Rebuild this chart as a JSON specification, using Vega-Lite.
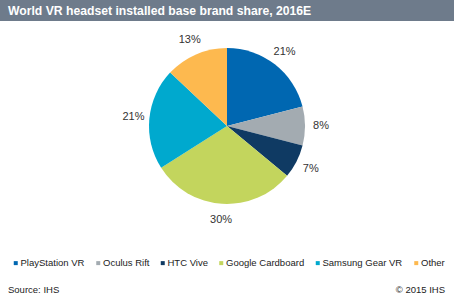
{
  "$schema": "https://vega.github.io/schema/vega-lite/v6.json",
  "width": 454,
  "height": 308,
  "autosize": {"type": "fit", "contains": "padding"},
  "padding": 0,
  "background": "white",
  "config": {
    "view": {"stroke": "#8E98A3", "strokeWidth": 3},
    "font": "Liberation Sans"
  },
  "layer": [
    {
      "data": {"values": [{"title": "World VR  headset installed base brand share, 2016E"}]},
      "mark": {"type": "rect", "fill": "#6E7B8B", "x": 0, "x2": 454, "y": 0, "y2": 21}
    },
    {
      "data": {"values": [{"title": "World VR  headset installed base brand share, 2016E"}]},
      "mark": {"type": "text", "x": 8, "y": 11, "align": "left", "baseline": "middle", "fontWeight": "bold", "fontSize": 12.2, "color": "white"},
      "encoding": {"text": {"field": "title"}}
    },
    {
      "data": {"values": [
        {"brand": "PlayStation VR", "share": 21, "order": 1},
        {"brand": "Oculus Rift", "share": 8, "order": 2},
        {"brand": "HTC Vive", "share": 7, "order": 3},
        {"brand": "Google Cardboard", "share": 30, "order": 4},
        {"brand": "Samsung Gear VR", "share": 21, "order": 5},
        {"brand": "Other", "share": 13, "order": 6}
      ]},
      "layer": [
        {
          "mark": {"type": "arc", "outerRadius": 78, "x": 227, "y": 126},
          "encoding": {
            "theta": {"field": "share", "type": "quantitative", "stack": true},
            "order": {"field": "order", "type": "quantitative"},
            "color": {
              "field": "brand", "type": "nominal",
              "scale": {
                "domain": ["PlayStation VR", "Oculus Rift", "HTC Vive", "Google Cardboard", "Samsung Gear VR", "Other"],
                "range": ["#0067B1", "#A3ABB1", "#0F3A63", "#C3D55D", "#00A9CE", "#FDB94F"]
              },
              "legend": {
                "orient": "none", "legendX": 11, "legendY": 258, "direction": "horizontal", "columns": 6,
                "title": null, "symbolType": "square", "symbolSize": 16, "symbolOffset": 0, "symbolStrokeWidth": 0,
                "labelFontSize": 9.5, "labelColor": "#222222", "columnPadding": 8.5, "labelOffset": 0,
                "labelFont": "Liberation Sans", "labelLimit": 200, "padding": 0
              }
            }
          }
        },
        {
          "transform": [{"calculate": "datum.share + '%'", "as": "label"}],
          "mark": {"type": "text", "radius": 94, "x": 227, "y": 126, "fontSize": 11, "color": "#333333"},
          "encoding": {
            "theta": {"field": "share", "type": "quantitative", "stack": true},
            "order": {"field": "order", "type": "quantitative"},
            "text": {"field": "label"}
          }
        }
      ]
    },
    {
      "data": {"values": [{"t": "Source: IHS"}]},
      "mark": {"type": "text", "x": 8, "y": 290, "align": "left", "baseline": "middle", "fontSize": 9.5, "color": "#222222"},
      "encoding": {"text": {"field": "t"}}
    },
    {
      "data": {"values": [{"t": "© 2015 IHS"}]},
      "mark": {"type": "text", "x": 445, "y": 290, "align": "right", "baseline": "middle", "fontSize": 9.5, "color": "#222222"},
      "encoding": {"text": {"field": "t"}}
    }
  ]
}
